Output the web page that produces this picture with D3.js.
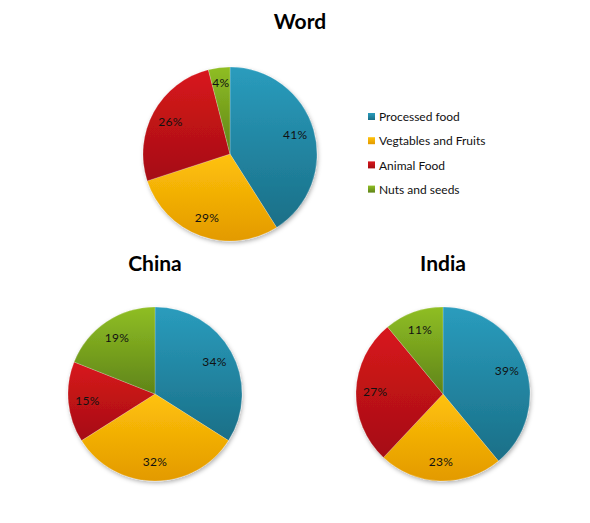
<!DOCTYPE html>
<html>
<head>
    <meta charset="UTF-8" />
    <title>food pies</title>
    <style>
        body { margin: 0; padding: 0; background: #fff; }
        svg { display: block; }
    </style>
</head>
<body>
    <div class="container"></div>
    <script src="https://cdnjs.cloudflare.com/ajax/libs/d3/7.8.5/d3.min.js"></script>
    <script>
        const categories = ['Processed food', 'Vegtables and Fruits', 'Animal Food', 'Nuts and seeds']
        const regions = ['Word', 'China', 'India']
        const wordValues = [41, 29, 26, 4]
        const chinaValues = [34, 32, 15, 19]
        const indiaValues = [39, 23, 27, 11]

        const colorsTop = ['#2a9cbd', '#ffc20a', '#d8161c', '#8fbe24']
        const colorsBottom = ['#1a6f87', '#e39a00', '#a50e12', '#5f8418']

        const width = 590, height = 523

        const svg = d3.select('.container').append('svg')
            .attr('width', width)
            .attr('height', height)

        const defs = svg.append('defs')
        const shadow = defs.append('filter').attr('id', 'shadow')
            .attr('x', '-20%').attr('y', '-20%').attr('width', '140%').attr('height', '140%')
        shadow.append('feDropShadow')
            .attr('dx', 1).attr('dy', 2).attr('stdDeviation', 2)
            .attr('flood-color', '#000').attr('flood-opacity', 0.3)

        categories.forEach((c, i) => {
            const g = defs.append('linearGradient').attr('id', 'grad' + i)
                .attr('x1', 0).attr('y1', 0).attr('x2', 0).attr('y2', 1)
            g.append('stop').attr('offset', '0%').attr('stop-color', colorsTop[i])
            g.append('stop').attr('offset', '100%').attr('stop-color', colorsBottom[i])
        })

        const pies = [
            { name: regions[0], values: wordValues, cx: 230, cy: 154, tx: 300, ty: 29 },
            { name: regions[1], values: chinaValues, cx: 155, cy: 394, tx: 155, ty: 271 },
            { name: regions[2], values: indiaValues, cx: 443, cy: 394, tx: 443, ty: 271 }
        ]
        const r = 87

        const pie = d3.pie().sort(null).value(d => d)
        const arc = d3.arc().innerRadius(0).outerRadius(r)
        const labelArc = d3.arc().innerRadius(r * 0.78).outerRadius(r * 0.78)
        const smallArc = d3.arc().innerRadius(r * 0.83).outerRadius(r * 0.83)

        pies.forEach(p => {
            svg.append('text')
                .attr('x', p.tx).attr('y', p.ty)
                .attr('text-anchor', 'middle')
                .attr('font-family', 'Lato, "Open Sans", sans-serif')
                .attr('font-weight', 'bold')
                .attr('font-size', 21)
                .attr('fill', '#000')
                .text(p.name)

            const g = svg.append('g').attr('transform', `translate(${p.cx},${p.cy})`)
            const arcs = pie(p.values)

            g.append('g').attr('filter', 'url(#shadow)')
                .selectAll('path')
                .data(arcs)
                .join('path')
                .attr('d', arc)
                .attr('fill', (d, i) => `url(#grad${i})`)
                .attr('stroke', 'rgba(255,255,255,0.35)')
                .attr('stroke-width', 0.6)

            g.selectAll('text')
                .data(arcs)
                .join('text')
                .attr('transform', d => `translate(${(d.data < 8 ? smallArc : labelArc).centroid(d)})`)
                .attr('text-anchor', 'middle')
                .attr('dy', '0.35em')
                .attr('font-family', 'Lato, "Open Sans", sans-serif')
                .attr('font-size', 12)
                .attr('letter-spacing', 0.3)
                .attr('fill', '#111')
                .text(d => d.data + '%')
        })

        // legend
        const legend = svg.append('g').attr('transform', 'translate(368,117)')
        const row = legend.selectAll('g')
            .data(categories)
            .join('g')
            .attr('transform', (d, i) => `translate(0,${i * 24.2})`)
        row.append('rect')
            .attr('x', 0).attr('y', -4)
            .attr('width', 7).attr('height', 7)
            .attr('fill', (d, i) => `url(#grad${i})`)
        row.append('text')
            .attr('x', 11).attr('dy', '0.35em')
            .attr('font-family', 'Lato, "Open Sans", sans-serif')
            .attr('font-size', 12)
            .attr('fill', '#111')
            .text(d => d)
    </script>
</body>
</html>
